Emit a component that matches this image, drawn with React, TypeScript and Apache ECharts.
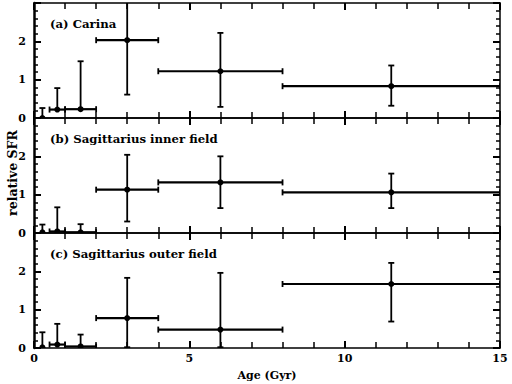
import React, { useEffect, useRef } from "react";
import * as echarts from "echarts";

const panelTitles = [
  "(a) Carina",
  "(b) Sagittarius inner field",
  "(c) Sagittarius outer field",
];
const ageCenter = [0.27, 0.75, 1.5, 3, 6, 11.5];
const ageLow = [0.27, 0.5, 1, 2, 4, 8];
const ageHigh = [0.27, 1, 2, 4, 8, 15];

const carinaSfr = [0.0, 0.22, 0.23, 2.03, 1.22, 0.83];
const carinaLow = [0.0, 0.22, 0.23, 0.61, 0.29, 0.32];
const carinaHigh = [0.26, 0.78, 1.48, 3.5, 2.22, 1.37];

const innerSfr = [0.02, 0.04, 0.02, 1.13, 1.32, 1.06];
const innerLow = [0.0, 0.04, 0.02, 0.3, 0.65, 0.65];
const innerHigh = [0.22, 0.67, 0.23, 2.04, 2.0, 1.55];

const outerSfr = [0.02, 0.09, 0.04, 0.78, 0.48, 1.67];
const outerLow = [0.0, 0.09, 0.04, 0.02, 0.02, 0.69];
const outerHigh = [0.41, 0.63, 0.35, 1.83, 1.96, 2.22];

const xTickValues = [0, 5, 10, 15];
const yTickValues = [0, 1, 2];

const panels = [
  { sfr: carinaSfr, low: carinaLow, high: carinaHigh },
  { sfr: innerSfr, low: innerLow, high: innerHigh },
  { sfr: outerSfr, low: outerLow, high: outerHigh },
];

const FONT = "DejaVu Serif";

export default function App() {
  const ref = useRef<HTMLDivElement>(null);
  useEffect(() => {
    if (!ref.current) return;
    const chart = echarts.init(ref.current, null, { renderer: "svg" });
    const gridTops = [3, 118, 233];
    const gridH = 115;
    const grids = gridTops.map((t) => ({ left: 34, width: 466, top: t, height: gridH }));
    const xAxes: any[] = [];
    const yAxes: any[] = [];
    const black = "#000";
    gridTops.forEach((_, i) => {
      const common = {
        gridIndex: i,
        type: "value",
        min: 0,
        max: 15,
        interval: 5,
        splitLine: { show: false },
        axisLine: { show: true, onZero: false, lineStyle: { color: black, width: 1.5 } },
        axisTick: { show: true, inside: true, length: 7, lineStyle: { color: black, width: 2 } },
        minorTick: { show: true, splitNumber: 5, length: 6, lineStyle: { color: black, width: 1.5 } },
      };
      xAxes.push({
        ...common,
        position: "bottom",
        axisLabel: {
          show: i === 2,
          color: black,
          fontFamily: FONT,
          fontWeight: "bold",
          fontSize: 11,
          margin: 5,
          customValues: xTickValues,
        },
      });
      xAxes.push({ ...common, position: "top", axisLabel: { show: false } });
      const ycommon = {
        gridIndex: i,
        type: "value",
        min: 0,
        max: 3,
        interval: 1,
        splitLine: { show: false },
        axisTick: { show: true, inside: true, length: 7, lineStyle: { color: black, width: 2 } },
        minorTick: { show: true, splitNumber: 5, length: 4, lineStyle: { color: black, width: 1.5 } },
      };
      yAxes.push({
        ...ycommon,
        position: "left",
        axisLine: { show: true, onZero: false, lineStyle: { color: black, width: 2.5 } },
        axisLabel: {
          show: true,
          color: black,
          fontFamily: FONT,
          fontWeight: "bold",
          fontSize: 11,
          margin: 8,
          customValues: yTickValues,
        },
      });
      yAxes.push({
        ...ycommon,
        position: "right",
        axisLine: { show: true, onZero: false, lineStyle: { color: black, width: 1.5 } },
        axisLabel: { show: false },
      });
    });

    const renderItem = (params: any, api: any) => {
      const x = api.value(0);
      const y = api.value(1);
      const xlo = api.value(2);
      const xhi = api.value(3);
      const ylo = api.value(4);
      const yhi = api.value(5);
      const c = api.coord([x, y]);
      const l = api.coord([xlo, y]);
      const r = api.coord([xhi, y]);
      const b = api.coord([x, ylo]);
      const t = api.coord([x, yhi]);
      const st = { stroke: "#000", lineWidth: 1.8 };
      const children: any[] = [];
      if (xhi > xlo) {
        children.push({ type: "line", shape: { x1: l[0], y1: c[1], x2: r[0], y2: c[1] }, style: { ...st, lineWidth: 2.2 } });
        children.push({ type: "line", shape: { x1: l[0], y1: c[1] - 3, x2: l[0], y2: c[1] + 3 }, style: st });
        children.push({ type: "line", shape: { x1: r[0], y1: c[1] - 3, x2: r[0], y2: c[1] + 3 }, style: st });
      }
      if (yhi > ylo) {
        children.push({ type: "line", shape: { x1: c[0], y1: b[1], x2: c[0], y2: t[1] }, style: st });
        if (yhi > y)
          children.push({ type: "line", shape: { x1: c[0] - 3, y1: t[1], x2: c[0] + 3, y2: t[1] }, style: st });
        if (ylo < y)
          children.push({ type: "line", shape: { x1: c[0] - 3, y1: b[1], x2: c[0] + 3, y2: b[1] }, style: st });
      }
      children.push({ type: "circle", shape: { cx: c[0], cy: c[1], r: 3 }, style: { fill: "#000" } });
      return { type: "group", children };
    };

    const series = panels.map((p, i) => ({
      type: "custom",
      xAxisIndex: 2 * i,
      yAxisIndex: 2 * i,
      clip: true,
      renderItem,
      encode: { x: 0, y: 1 },
      data: ageCenter.map((a, k) => [a, p.sfr[k], ageLow[k], ageHigh[k], p.low[k], p.high[k]]),
    }));

    const textStyle = (extra: any) => ({
      fill: "#000",
      fontFamily: FONT,
      fontWeight: "bold",
      fontSize: 11,
      ...extra,
    });

    const graphic: any[] = panelTitles.map((title, i) => ({
      type: "text",
      x: 50,
      y: gridTops[i] + 21,
      style: textStyle({ text: title, fontSize: 11.7, verticalAlign: "middle" }),
    }));
    graphic.push({
      type: "text",
      x: 267,
      y: 375,
      style: textStyle({ text: "Age (Gyr)", align: "center", verticalAlign: "middle" }),
    });
    graphic.push({
      type: "text",
      x: 12,
      y: 173,
      rotation: Math.PI / 2,
      style: textStyle({ text: "relative SFR", fontSize: 12.5, align: "center", verticalAlign: "middle" }),
    });

    chart.setOption({
      animation: false,
      backgroundColor: "#fff",
      grid: grids,
      xAxis: xAxes,
      yAxis: yAxes,
      series,
      graphic,
    });
    return () => chart.dispose();
  }, []);
  return (
    <div
      ref={ref}
      style={{ position: "absolute", left: 0, top: 0, width: 512, height: 384 }}
    />
  );
}
